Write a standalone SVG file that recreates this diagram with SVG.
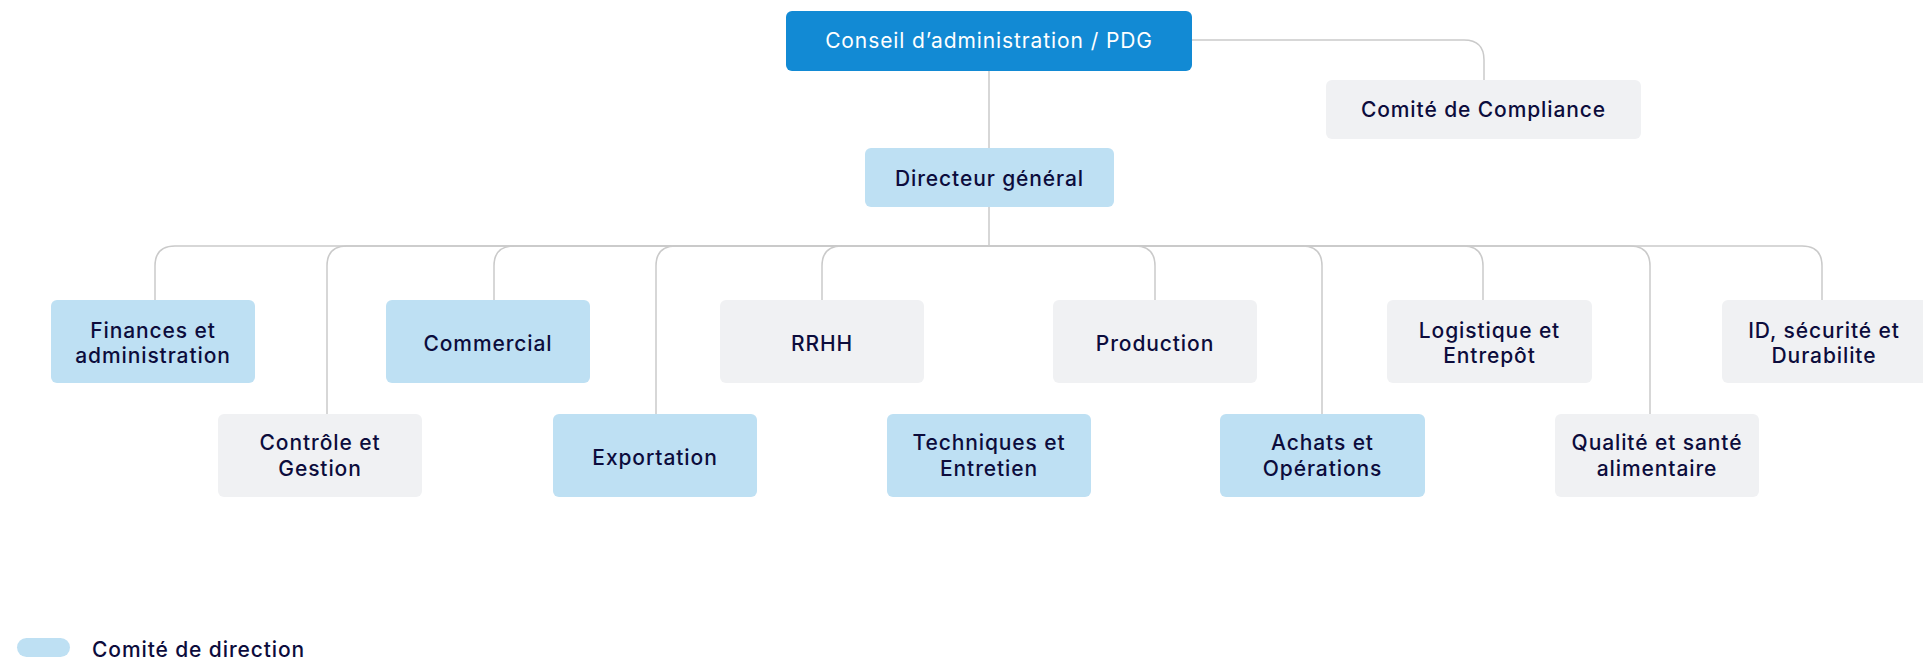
<svg xmlns="http://www.w3.org/2000/svg" width="1923" height="658" viewBox="0 0 1923 658">
<style>
.b{fill:#BEE0F3}
.g{fill:#F0F1F3}
.t{font-family:Inter,"Liberation Sans",sans-serif;font-size:21px;font-weight:500;letter-spacing:0.9px;fill:#0C0C3C;text-anchor:middle}
.c{fill:none;stroke:#CACACA;stroke-width:1.5}
</style>
<rect width="1923" height="658" fill="#FFFFFF"/>
<g id="connectors">
<path class="c" d="M989,71 V148"/>
<path class="c" d="M989,207 V246"/>
<path class="c" d="M1192,40 H1464 Q1484,40 1484,60 V80"/>
<path class="c" d="M989,246 H175 Q155,246 155,266 V300"/>
<path class="c" d="M989,246 H347 Q327,246 327,266 V414"/>
<path class="c" d="M989,246 H514 Q494,246 494,266 V300"/>
<path class="c" d="M989,246 H676 Q656,246 656,266 V414"/>
<path class="c" d="M989,246 H842 Q822,246 822,266 V300"/>
<path class="c" d="M989,246 H1135 Q1155,246 1155,266 V300"/>
<path class="c" d="M989,246 H1302 Q1322,246 1322,266 V414"/>
<path class="c" d="M989,246 H1463 Q1483,246 1483,266 V300"/>
<path class="c" d="M989,246 H1630 Q1650,246 1650,266 V414"/>
<path class="c" d="M989,246 H1802 Q1822,246 1822,266 V300"/>
</g>
<g id="pdg"><rect x="786" y="11" width="406" height="60" rx="6" fill="#128AD4"/><text class="t" x="989" y="48" style="fill:#FFFFFF;font-weight:400">Conseil d’administration / PDG</text></g>
<g id="compliance"><rect class="g" x="1326" y="80" width="315" height="59" rx="6"/><text class="t" x="1483.5" y="116.5">Comité de Compliance</text></g>
<g id="dg"><rect class="b" x="865" y="148" width="249" height="59" rx="6"/><text class="t" x="989.5" y="185.5">Directeur général</text></g>
<g id="finances"><rect class="b" x="51" y="300" width="204" height="83" rx="6"/><text class="t" x="153" y="337.5">Finances et</text><text class="t" x="153" y="363">administration</text></g>
<g id="commercial"><rect class="b" x="386" y="300" width="204" height="83" rx="6"/><text class="t" x="488" y="351">Commercial</text></g>
<g id="rrhh"><rect class="g" x="720" y="300" width="204" height="83" rx="6"/><text class="t" x="822" y="351">RRHH</text></g>
<g id="production"><rect class="g" x="1053" y="300" width="204" height="83" rx="6"/><text class="t" x="1155" y="351">Production</text></g>
<g id="logistique"><rect class="g" x="1387" y="300" width="205" height="83" rx="6"/><text class="t" x="1489.5" y="337.5">Logistique et</text><text class="t" x="1489.5" y="363">Entrepôt</text></g>
<g id="id-securite"><rect class="g" x="1722" y="300" width="210" height="83" rx="6"/><text class="t" x="1824" y="337.5">ID, sécurité et</text><text class="t" x="1824" y="363">Durabilite</text></g>
<g id="controle"><rect class="g" x="218" y="414" width="204" height="83" rx="6"/><text class="t" x="320" y="450">Contrôle et</text><text class="t" x="320" y="476">Gestion</text></g>
<g id="exportation"><rect class="b" x="553" y="414" width="204" height="83" rx="6"/><text class="t" x="655" y="465">Exportation</text></g>
<g id="techniques"><rect class="b" x="887" y="414" width="204" height="83" rx="6"/><text class="t" x="989" y="450">Techniques et</text><text class="t" x="989" y="476">Entretien</text></g>
<g id="achats"><rect class="b" x="1220" y="414" width="205" height="83" rx="6"/><text class="t" x="1322.5" y="450">Achats et</text><text class="t" x="1322.5" y="476">Opérations</text></g>
<g id="qualite"><rect class="g" x="1555" y="414" width="204" height="83" rx="6"/><text class="t" x="1657" y="450">Qualité et santé</text><text class="t" x="1657" y="476">alimentaire</text></g>
<g id="legend"><rect class="b" x="17" y="638" width="53" height="19" rx="9.5"/><text class="t" x="92" y="656.5" style="text-anchor:start">Comité de direction</text></g>
</svg>
